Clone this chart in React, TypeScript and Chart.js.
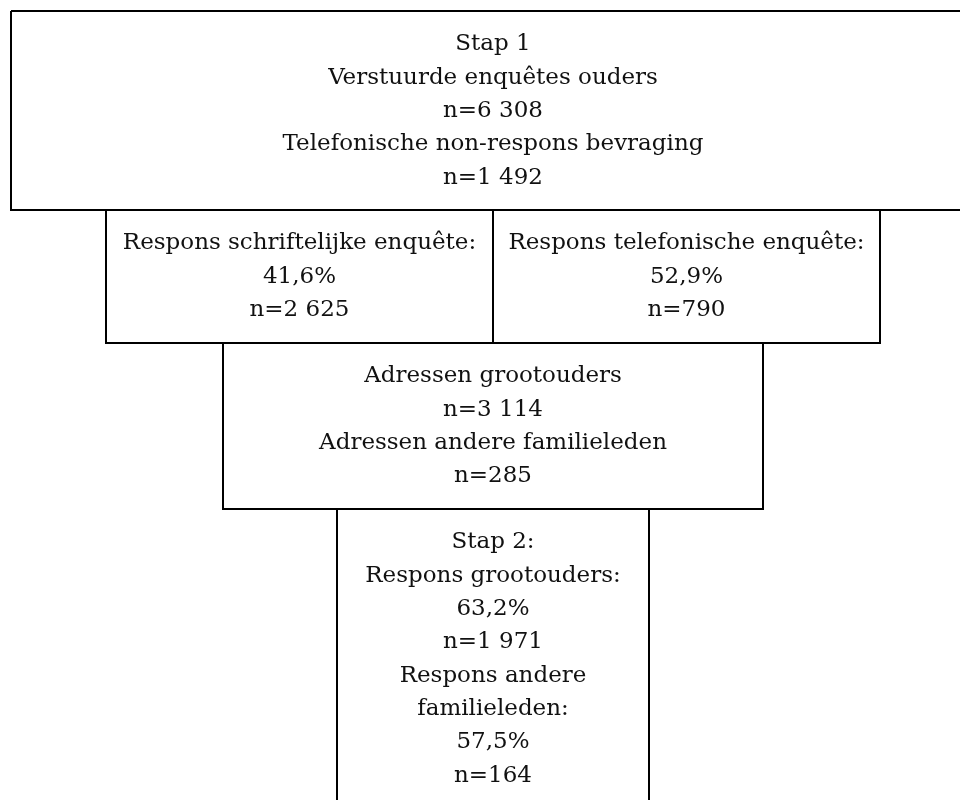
import React, { useEffect, useRef } from "react";
import { Chart, registerables } from "chart.js";

Chart.register(...registerables);

// Flowchart boxes (layout grid units, y grows downward)
const boxNames = ["stap1", "schriftelijk", "telefonisch", "adressen", "stap2"];
const boxLeft = [11, 106, 493, 223, 337];
const boxRight = [975, 493, 880, 763, 649];
const boxTop = [11, 210, 210, 343, 509];
const boxBottom = [210, 343, 343, 509, 810];

const stap1Lines = [
  "Stap 1",
  "Verstuurde enquêtes ouders",
  "n=6 308",
  "Telefonische non-respons bevraging",
  "n=1 492",
];
const schriftelijkLines = ["Respons schriftelijke enquête:", "41,6%", "n=2 625"];
const telefonischLines = ["Respons telefonische enquête:", "52,9%", "n=790"];
const adressenLines = [
  "Adressen grootouders",
  "n=3 114",
  "Adressen andere familieleden",
  "n=285",
];
const stap2Lines = [
  "Stap 2:",
  "Respons grootouders:",
  "63,2%",
  "n=1 971",
  "Respons andere",
  "familieleden:",
  "57,5%",
  "n=164",
];
const boxLines = [stap1Lines, schriftelijkLines, telefonischLines, adressenLines, stap2Lines];

const LINE_STEP = 33.3;
const FIRST_LINE_OFFSET = 33.5;

export default function App() {
  const ref = useRef<HTMLCanvasElement | null>(null);

  useEffect(() => {
    document.body.style.margin = "0";
    const canvas = ref.current;
    if (!canvas) return;

    const datasets = boxNames.map((name, i) => ({
      label: name,
      data: [
        { x: boxLeft[i], y: boxTop[i] },
        { x: boxRight[i], y: boxTop[i] },
        { x: boxRight[i], y: boxBottom[i] },
        { x: boxLeft[i], y: boxBottom[i] },
        { x: boxLeft[i], y: boxTop[i] },
      ],
      showLine: true,
      borderColor: "#000000",
      borderWidth: 2,
      pointRadius: 0,
      pointHoverRadius: 0,
      fill: false,
      tension: 0,
      borderJoinStyle: "miter" as const,
    }));

    const textPlugin = {
      id: "boxText",
      afterDatasetsDraw(chart: any) {
        const { ctx, scales } = chart;
        const xs = scales.x;
        const ys = scales.y;
        ctx.save();
        ctx.fillStyle = "#111111";
        ctx.font = '23px "DejaVu Serif"';
        ctx.textAlign = "center";
        ctx.textBaseline = "middle";
        boxLines.forEach((lines, i) => {
          const cx = xs.getPixelForValue((boxLeft[i] + Math.min(boxRight[i], 975)) / 2);
          lines.forEach((t, j) => {
            const y = ys.getPixelForValue(boxTop[i] + FIRST_LINE_OFFSET + j * LINE_STEP);
            ctx.fillText(t, cx, y);
          });
        });
        ctx.restore();
      },
    };

    const chart = new Chart(canvas, {
      type: "scatter",
      data: { datasets },
      options: {
        animation: false,
        responsive: false,
        maintainAspectRatio: false,
        layout: { padding: 0 },
        plugins: {
          legend: { display: false },
          tooltip: { enabled: false },
          title: { display: false },
        },
        events: [],
        scales: {
          x: { type: "linear", min: 0, max: 960, display: false },
          y: { type: "linear", min: 0, max: 800, reverse: true, display: false },
        },
      },
      plugins: [textPlugin],
    });

    return () => chart.destroy();
  }, []);

  return (
    <div style={{ width: 960, height: 800, background: "#ffffff" }}>
      <canvas ref={ref} width={960} height={800} style={{ display: "block" }} />
    </div>
  );
}
